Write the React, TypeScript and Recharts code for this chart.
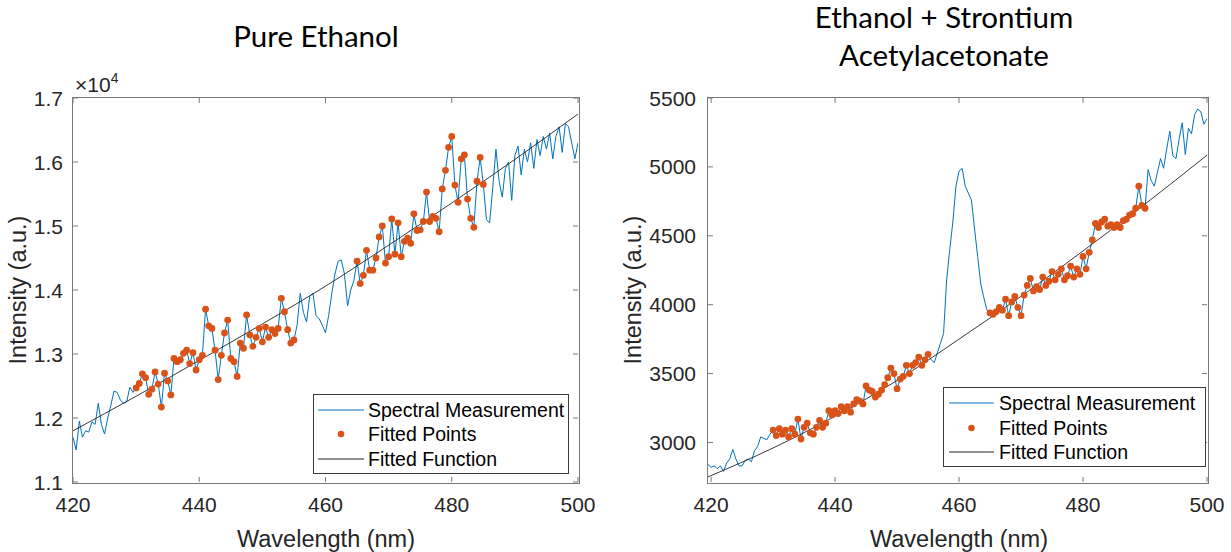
import { ComposedChart, Line, Scatter, XAxis, YAxis } from 'recharts';

// sampling grid of the spectrometer (nm)
const WL_STEP = 0.5;
const leftStartNm = 420;
const rightStartNm = 419.5;

// Pure ethanol, 420–500 nm
const leftIntensity = [
  // 420–429.5
  11700, 11500, 11950, 11700, 11800, 11780, 11940, 11900, 12230, 11900,
  11750, 12000, 12200, 12420, 12400, 12280, 12230, 12250, 12480, 12400,
  // 430–439.5
  12470, 12540, 12690, 12630, 12370, 12450, 12720, 12530, 12170, 12700,
  12580, 12360, 12930, 12880, 12910, 13010, 13060, 12850, 13020, 12750,
  // 440–449.5
  12910, 12980, 13700, 13440, 13400, 13060, 12600, 12980, 13330, 13530,
  12930, 12880, 12650, 13170, 13090, 13610, 13300, 13120, 13260, 13400,
  // 450–459.5
  13190, 13420, 13260, 13380, 13320, 13400, 13870, 13660, 13380, 13170,
  13220, 13450, 13950, 13650, 13500, 13900, 13950, 13600, 13550, 13450,
  // 460–469.5
  13330, 13600, 13950, 14250, 14450, 14470, 14250, 13750, 14000, 14150,
  14450, 14100, 14230, 14620, 14310, 14310, 14500, 14830, 15000, 14420,
  // 470–479.5
  14520, 15110, 14560, 15050, 14520, 14760, 14810, 14730, 15190, 14930,
  14940, 15070, 15530, 15070, 15150, 15120, 14910, 15580, 15870, 16230,
  // 480–489.5
  16400, 15640, 15370, 16050, 16110, 15420, 15120, 14980, 15700, 16070,
  15650, 15100, 15050, 15600, 16200, 15700, 15450, 15900, 16000, 15400,
  // 490–500
  16100, 16250, 15800, 16200, 16000, 16300, 15900, 16350, 16100, 16400,
  16200, 16450, 16050, 16400, 16550, 16150, 16600, 16550, 16300, 16050,
  16300,
];

// Ethanol + strontium acetylacetonate, 419.5–500 nm
const rightIntensity = [
  // 419.5–429.5
  2840, 2820, 2830, 2810, 2830, 2790, 2850, 2880, 2950, 2880, 2830,
  2830, 2870, 2880, 2860, 2940, 2970, 3040, 3030, 3020, 3060,
  // 430–439.5
  3090, 3050, 3100, 3060, 3090, 3040, 3100, 3060, 3170, 3025,
  3110, 3140, 3070, 3060, 3110, 3160, 3110, 3140, 3230, 3200,
  // 440–449.5
  3230, 3210, 3260, 3230, 3260, 3220, 3280, 3310, 3300, 3280,
  3410, 3380, 3370, 3330, 3350, 3380, 3420, 3470, 3540, 3500,
  // 450–459.5
  3390, 3460, 3480, 3560, 3500, 3560, 3580, 3620, 3560, 3600,
  3640, 3600, 3580, 3650, 3720, 3790, 4180, 4400, 4600, 4860,
  // 460–469.5
  4970, 4990, 4860, 4810, 4760, 4550, 4350, 4150, 4050, 3960,
  3940, 3930, 3950, 3980, 3960, 4040, 3920, 4020, 4060, 3980,
  // 470–479.5
  3920, 4070, 4140, 4190, 4100, 4130, 4110, 4200, 4140, 4170,
  4240, 4180, 4220, 4260, 4180, 4210, 4280, 4200, 4260, 4220,
  // 480–489.5
  4350, 4260, 4380, 4470, 4590, 4560, 4600, 4620, 4570, 4580,
  4560, 4580, 4560, 4610, 4620, 4650, 4660, 4700, 4860, 4720,
  // 490–500
  4700, 4980, 4900, 4860, 4960, 5060, 4990, 5130, 5260, 5080,
  5060, 5200, 5320, 5090, 5280, 5240, 5380, 5420, 5400, 5310,
  5350,
];

// wavelength windows used for the background fit
const leftFitWindows = [[430, 455], [465, 485]];
const rightFitWindows = [[430, 455], [465, 490]];

// fitted background curves
const leftFitNm = [420, 430, 440, 450, 460, 470, 480, 490, 500];
const leftFitValues = [11800, 12340, 12900, 13470, 14060, 14700, 15360, 16040, 16750];
const rightFitNm = [419.5, 430, 440, 450, 460, 470, 480, 490, 500];
const rightFitValues = [2750, 2960, 3190, 3450, 3750, 4060, 4390, 4730, 5085];

const xTicks = [420, 440, 460, 480, 500];
const leftYTicks = [11000, 12000, 13000, 14000, 15000, 16000, 17000];
const rightYTicks = [3000, 3500, 4000, 4500, 5000, 5500];
const legendLabels = ['Spectral Measurement', 'Fitted Points', 'Fitted Function'];

const toSpectrum = (start: number, values: number[]) =>
  values.map((v, i) => ({ wl: start + i * WL_STEP, v }));
const inWindows = (windows: number[][]) => (p: { wl: number }) =>
  windows.some(([a, b]) => p.wl >= a && p.wl <= b);
const toCurve = (nm: number[], values: number[]) => nm.map((wl, i) => ({ wl, v: values[i] }));

const leftSpectrum = toSpectrum(leftStartNm, leftIntensity);
const rightSpectrum = toSpectrum(rightStartNm, rightIntensity);
const leftFitted = leftSpectrum.filter(inWindows(leftFitWindows));
const rightFitted = rightSpectrum.filter(inWindows(rightFitWindows));
const leftFit = toCurve(leftFitNm, leftFitValues);
const rightFit = toCurve(rightFitNm, rightFitValues);

const H = 552;
const PLOT_TOP = 98;
const PLOT_BOTTOM = 482;
const BLUE = '#0072BD';
const ORANGE = '#D95319';
const AXIS = '#7a7a7a';
const INK = '#262626';
const SANS = '"Liberation Sans", Arial, sans-serif';
const TITLE_FONT = 'Lato, "Open Sans", sans-serif';

const XTick = ({ x, y, payload }: any) => (
  <g>
    <line x1={x} y1={y} x2={x} y2={y - 5} stroke={AXIS} />
    <line x1={x} y1={PLOT_TOP} x2={x} y2={PLOT_TOP + 5} stroke={AXIS} />
    <text x={x} y={y + 30} textAnchor="middle" fontSize={21} fontFamily={SANS} fill={INK}>
      {payload.value}
    </text>
  </g>
);

const YTick = ({ x, y, payload, right, fmt, gap }: any) => (
  <g>
    <line x1={x} y1={y} x2={x + 5} y2={y} stroke={AXIS} />
    <line x1={right - 5} y1={y} x2={right} y2={y} stroke={AXIS} />
    <text x={x - gap} y={y} dy="0.36em" textAnchor="end" fontSize={21} fontFamily={SANS} fill={INK}>
      {fmt(payload.value)}
    </text>
  </g>
);

const dotShape = (p: any) => <circle cx={p.cx} cy={p.cy} r={3.4} fill={ORANGE} />;

const LegendBox = ({ x, y, w, h, rows, sampleX, textX }: any) => (
  <svg
    width={w}
    height={h}
    style={{ position: 'absolute', left: x, top: y, background: '#fff', border: '1px solid #3a3a3a', boxSizing: 'border-box' }}
  >
    <line x1={sampleX[0]} x2={sampleX[1]} y1={rows[0]} y2={rows[0]} stroke={BLUE} strokeWidth={1} />
    <circle cx={(sampleX[0] + sampleX[1]) / 2} cy={rows[1]} r={3.3} fill={ORANGE} />
    <line x1={sampleX[0]} x2={sampleX[1]} y1={rows[2]} y2={rows[2]} stroke="#222" strokeWidth={1} />
    {legendLabels.map((label, i) => (
      <text key={label} x={textX} y={rows[i]} dy="0.36em" fontSize={19.5} fontFamily={SANS} fill="#000">
        {label}
      </text>
    ))}
  </svg>
);

const Panel = ({ left, width, yAxisWidth, rightGap, xDomain, yDomain, yTicks, yFmt, yGap, spectrum, fitted, fit }: any) => {
  const plotRight = width - rightGap;
  return (
    <div style={{ position: 'absolute', left, top: 0, width, height: H }}>
      <ComposedChart width={width} height={H} margin={{ top: PLOT_TOP, right: rightGap, bottom: 0, left: 0 }}>
        <XAxis
          type="number"
          dataKey="wl"
          domain={xDomain}
          ticks={xTicks}
          interval={0}
          allowDataOverflow
          height={H - PLOT_BOTTOM}
          axisLine={false}
          tickLine={false}
          tickSize={0}
          tickMargin={0}
          tick={(p: any) => <XTick {...p} />}
        />
        <YAxis
          type="number"
          domain={yDomain}
          ticks={yTicks}
          interval={0}
          allowDataOverflow
          width={yAxisWidth}
          axisLine={false}
          tickLine={false}
          tickSize={0}
          tickMargin={0}
          tick={(p: any) => <YTick {...p} right={plotRight} fmt={yFmt} gap={yGap} />}
        />
        <Line data={spectrum} dataKey="v" type="linear" stroke={BLUE} strokeWidth={1} dot={false} isAnimationActive={false} />
        <Scatter data={fitted} dataKey="v" shape={dotShape} isAnimationActive={false} />
        <Line data={fit} dataKey="v" type="monotone" stroke="#222" strokeWidth={0.9} dot={false} isAnimationActive={false} />
      </ComposedChart>
      <div
        style={{
          position: 'absolute',
          left: yAxisWidth - 1,
          top: PLOT_TOP - 1,
          width: plotRight - yAxisWidth + 1,
          height: PLOT_BOTTOM - PLOT_TOP + 1,
          border: `1px solid ${AXIS}`,
          pointerEvents: 'none',
        }}
      />
    </div>
  );
};

export default function App() {
  return (
    <div style={{ position: 'absolute', left: 0, top: 0, width: 1231, height: H, background: '#fff', overflow: 'hidden' }}>
      <Panel
        left={0}
        width={620}
        yAxisWidth={73}
        rightGap={42}
        xDomain={[420, 500]}
        yDomain={[11000, 17000]}
        yTicks={leftYTicks}
        yFmt={(v: number) => (v / 10000).toFixed(1)}
        yGap={10}
        spectrum={leftSpectrum}
        fitted={leftFitted}
        fit={leftFit}
      />
      <Panel
        left={620}
        width={611}
        yAxisWidth={88}
        rightGap={24}
        xDomain={[419.5, 500]}
        yDomain={[2713, 5500]}
        yTicks={rightYTicks}
        yFmt={(v: number) => String(v)}
        yGap={12}
        spectrum={rightSpectrum}
        fitted={rightFitted}
        fit={rightFit}
      />
      <LegendBox x={313} y={394} w={256} h={80} rows={[15, 39, 64]} sampleX={[4, 50]} textX={54} />
      <LegendBox x={943} y={387} w={263} h={80} rows={[15, 40, 64]} sampleX={[5, 50]} textX={55} />
      <svg width={1231} height={H} style={{ position: 'absolute', left: 0, top: 0, pointerEvents: 'none' }}>
        <g fontFamily={TITLE_FONT} fontSize={29.5} fill="#000" textAnchor="middle">
          <text x={316} y={47}>Pure Ethanol</text>
          <text x={944} y={28}>Ethanol + Strontium</text>
          <text x={944} y={66}>Acetylacetonate</text>
        </g>
        <g fontFamily={SANS} fontSize={23.5} fill={INK} textAnchor="middle">
          <text x={326} y={547}>Wavelength (nm)</text>
          <text x={959} y={547}>Wavelength (nm)</text>
          <text transform="translate(26 290) rotate(-90)">Intensity (a.u.)</text>
          <text transform="translate(641 290) rotate(-90)">Intensity (a.u.)</text>
        </g>
        <text x={75} y={92} fontFamily={SANS} fontSize={21} fill={INK}>
          ×10<tspan dy={-9} fontSize={14}>4</tspan>
        </text>
      </svg>
    </div>
  );
}
